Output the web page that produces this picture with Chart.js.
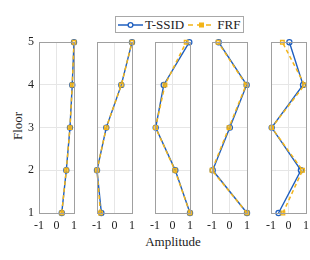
<!DOCTYPE html>
<html>
<head>
<meta charset="utf-8">
<script src="https://cdn.jsdelivr.net/npm/chart.js@4.4.1/dist/chart.umd.min.js"></script>
<style>
  body { margin: 0; background: #fff; }
  #wrap { position: relative; width: 310px; height: 260px; font-family: "Liberation Serif", "DejaVu Serif", serif; color: #222; }
  canvas.panel { position: absolute; }
  .lbl { position: absolute; font-size: 13px; white-space: nowrap; }
  #legend { position: absolute; left: 115px; top: 16px; height: 15px; border: 1px solid #a8a8a8; background: #fff; padding-right: 3px;
            font-size: 13px; line-height: 15px; display: flex; align-items: center; white-space: nowrap; }
  #legend svg, #legend span { display: block; flex: none; }
</style>
</head>
<body>
<div id="wrap">
  <div class="lbl" style="left:0px; top:118px; transform: rotate(-90deg); transform-origin: center; width:36px; text-align:center;">Floor</div>
  <div class="lbl" style="left:140px; top:234px; width:66px; text-align:center;">Amplitude</div>
  <div id="legend">
    <svg width="28" height="15"><line x1="2" y1="8" x2="27" y2="8" stroke="#1f5fbf" stroke-width="1.5"/><circle cx="14.5" cy="8" r="2.4" fill="#fff" stroke="#1f5fbf" stroke-width="1.3"/></svg>
    <span style="margin-left:1px">T-SSID</span>
    <svg width="29" height="15" style="margin-left:3px"><line x1="1" y1="8" x2="28" y2="8" stroke="#f2b418" stroke-width="1.5" stroke-dasharray="5,4"/><rect x="12" y="5.5" width="5" height="5" fill="#f2b418"/></svg>
    <span style="margin-left:1px">FRF</span>
  </div>
</div>
<script>
// floors (y values) and mode shapes, bottom floor first
const floors = [1, 2, 3, 4, 5];
const xTicks = [-1, 0, 1];

const tssid1 = [0.30, 0.56, 0.77, 0.90, 1.00];
const frf1   = [0.30, 0.56, 0.77, 0.90, 1.00];
const tssid2 = [-0.75, -1.00, -0.47, 0.39, 1.00];
const frf2   = [-0.80, -1.00, -0.47, 0.39, 1.00];
const tssid3 = [1.00, 0.16, -0.96, -0.50, 0.96];
const frf3   = [1.00, 0.14, -0.97, -0.43, 0.78];
const tssid4 = [1.00, -0.96, 0.02, 0.98, -0.62];
const frf4   = [1.00, -1.00, -0.03, 0.95, -0.65];
const tssid5 = [-0.57, 0.71, -0.96, 0.83, 0.05];
const frf5   = [-0.32, 0.80, -0.96, 0.92, -0.35];

const modes = [[tssid1, frf1], [tssid2, frf2], [tssid3, frf3], [tssid4, frf4], [tssid5, frf5]];
const panelLeft = [39, 97, 155, 212, 271];

const blue = '#1f5fbf';
const yellow = '#f2b418';
const serif = '"Liberation Serif", "DejaVu Serif", serif';

// grey box round each plot area, like MATLAB's "box on"
const boxPlugin = {
  id: 'box',
  afterDraw(chart) {
    const a = chart.chartArea, c = chart.ctx;
    c.save();
    c.strokeStyle = '#a0a0a0';
    c.lineWidth = 1;
    c.strokeRect(Math.round(a.left) + 0.5, Math.round(a.top) + 0.5, Math.round(a.width), Math.round(a.height));
    c.restore();
  }
};

const wrap = document.getElementById('wrap');

modes.forEach(([ts, fr], i) => {
  const cv = document.createElement('canvas');
  cv.className = 'panel';
  cv.style.left = (panelLeft[i] - 20) + 'px';
  cv.style.top = '30px';
  cv.style.width = '67px';
  cv.style.height = '210px';
  wrap.appendChild(cv);

  new Chart(cv, {
    type: 'scatter',
    data: {
      datasets: [{
        label: 'T-SSID',
        data: floors.map((f, k) => ({ x: ts[k], y: f })),
        showLine: true,
        borderColor: blue,
        borderWidth: 1.4,
        pointStyle: 'circle',
        pointRadius: 2.6,
        pointBorderWidth: 1.2,
        pointBackgroundColor: 'rgba(255,255,255,0)',
        pointBorderColor: blue,
        clip: false,
        order: 1
      }, {
        label: 'FRF',
        data: floors.map((f, k) => ({ x: fr[k], y: f })),
        showLine: true,
        borderColor: yellow,
        borderWidth: 1.5,
        borderDash: [4, 3],
        pointStyle: 'rect',
        pointRadius: 2.6,
        pointBorderWidth: 1.2,
        pointBackgroundColor: 'rgba(242,180,24,0.35)',
        pointBorderColor: yellow,
        clip: false,
        order: 0
      }]
    },
    options: {
      responsive: false,
      animation: false,
      layout: { padding: { left: 0, right: 12, top: 8, bottom: 0 } },
      plugins: { legend: { display: false }, tooltip: { enabled: false } },
      scales: {
        x: {
          type: 'linear', min: -1, max: 1,
          afterBuildTicks: s => { s.ticks = xTicks.map(v => ({ value: v })); },
          afterFit: s => { s.height = 27; },
          grid: { color: '#e6e6e6', drawTicks: false },
          border: { display: false },
          ticks: { color: '#222', padding: 6, font: { family: serif, size: 12 }, maxRotation: 0, autoSkip: false }
        },
        y: {
          type: 'linear', min: 1, max: 5,
          afterBuildTicks: s => { s.ticks = floors.map(v => ({ value: v })); },
          afterFit: s => { s.width = 20; },
          grid: { color: '#e6e6e6', drawTicks: false },
          border: { display: false },
          ticks: { color: i === 0 ? '#222' : 'rgba(0,0,0,0)', padding: 5, font: { family: serif, size: 12 } }
        }
      }
    },
    plugins: [boxPlugin]
  });
});
</script>
</body>
</html>
